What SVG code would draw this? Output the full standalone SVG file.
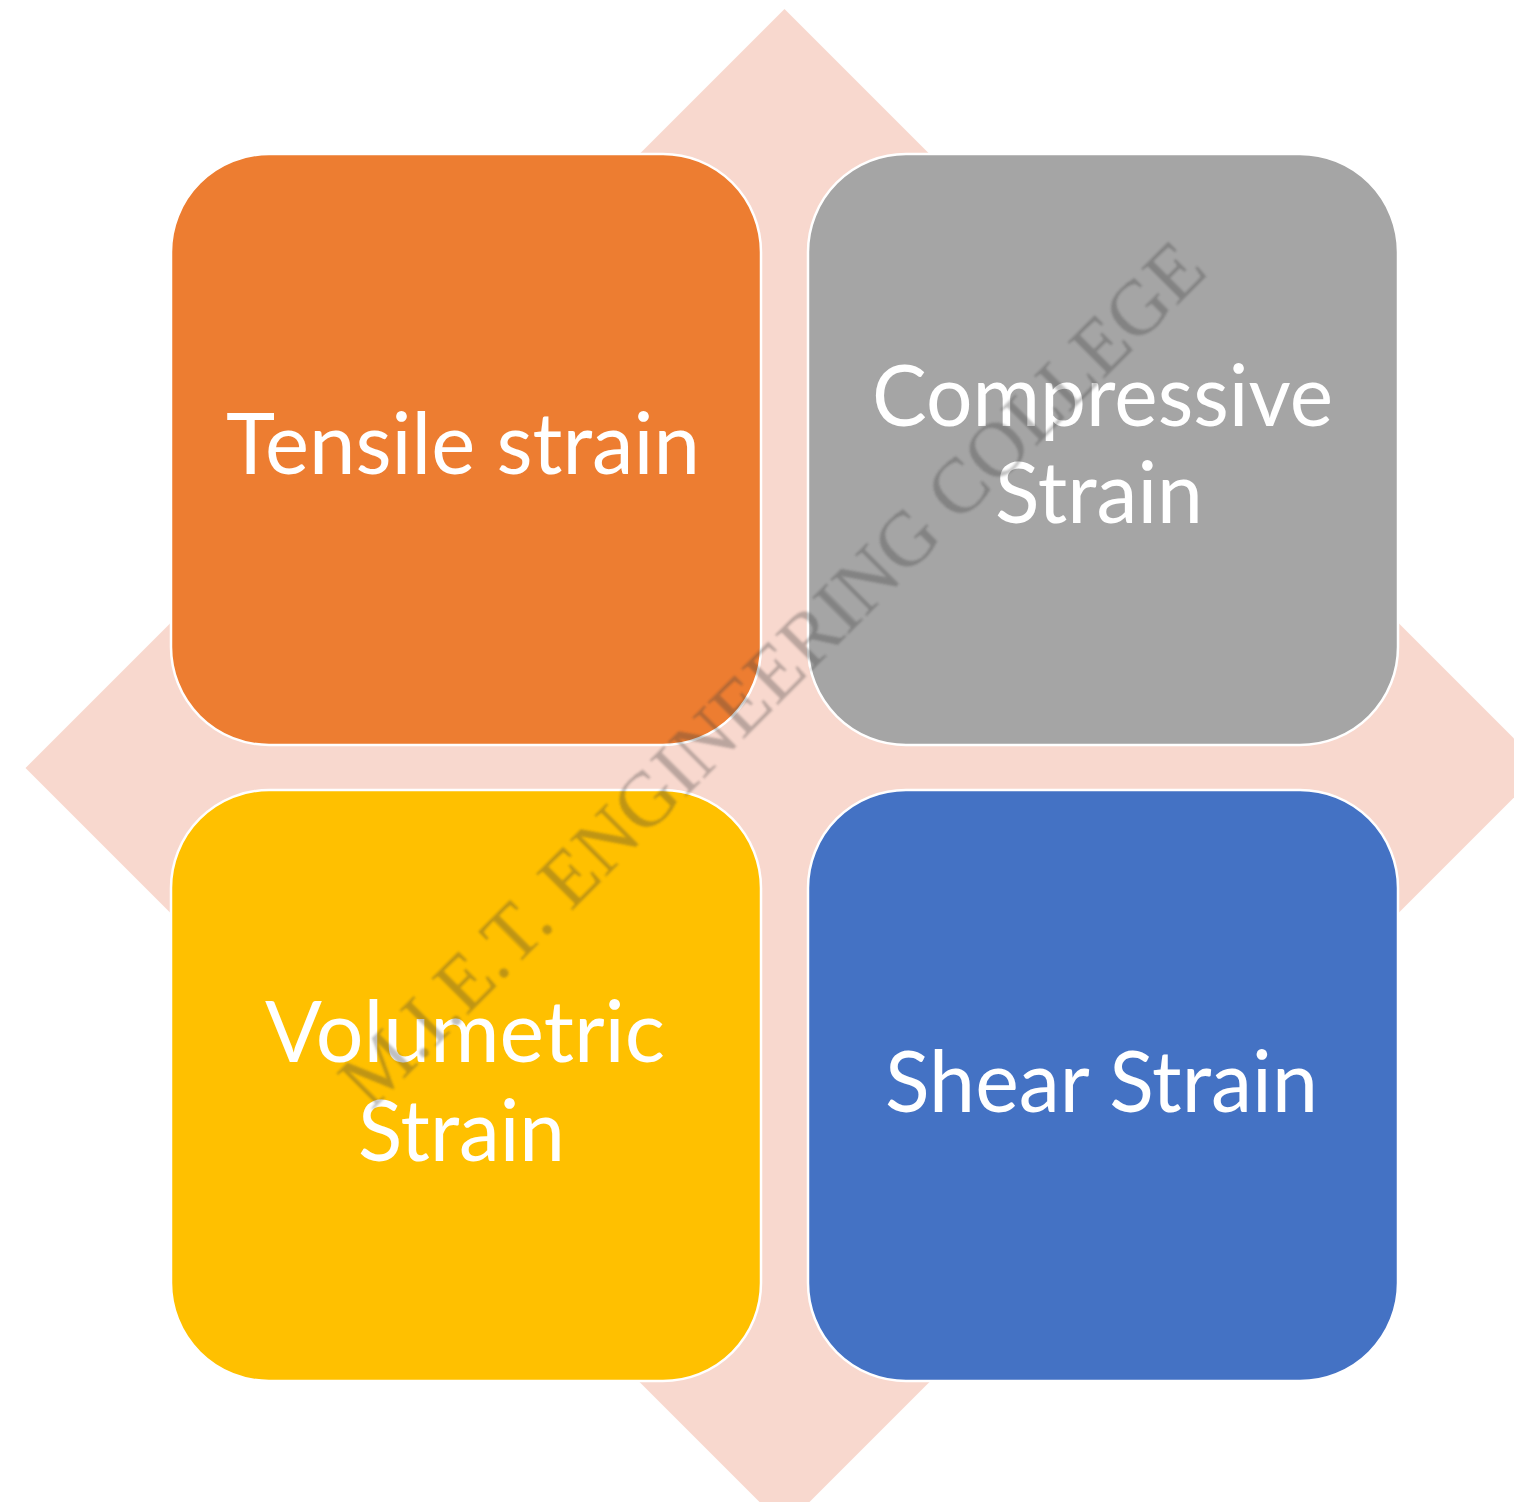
<svg xmlns="http://www.w3.org/2000/svg" width="1514" height="1502" viewBox="0 0 1514 1502">
  <style>
    .box { stroke: #FFFFFF; stroke-width: 2.5; }
    .lbl { font-family: Lato, "Open Sans", "Liberation Sans", sans-serif; font-size: 85px; fill: #FFFFFF; text-anchor: middle; }
    .wm { font-family: "Liberation Serif", "DejaVu Serif", serif; font-size: 78px; fill: #3a3a3a; fill-opacity: 0.33; text-anchor: middle; }
  </style>
  <defs>
    <filter id="soft" x="-5%" y="-5%" width="110%" height="110%">
      <feGaussianBlur stdDeviation="0.9"/>
    </filter>
  </defs>
  <rect x="0" y="0" width="1514" height="1502" fill="#FFFFFF"/>
  <g id="background-diamond">
    <polygon points="784.5,9 1543.5,768 784.5,1527 25.5,768" fill="#F8D8CE"/>
  </g>
  <g id="connectors"/>
  <g id="node-tensile">
    <rect class="box" x="171" y="154" width="590" height="591" rx="98" ry="98" fill="#ED7D31"/>
    <text class="lbl" x="463" y="474" textLength="474" lengthAdjust="spacingAndGlyphs">Tensile strain</text>
  </g>
  <g id="node-compressive">
    <rect class="box" x="808" y="154" width="590" height="591" rx="98" ry="98" fill="#A5A5A5"/>
    <text class="lbl" x="1102.5" y="426" textLength="461" lengthAdjust="spacingAndGlyphs">Compressive</text>
    <text class="lbl" x="1099" y="523" textLength="208" lengthAdjust="spacingAndGlyphs">Strain</text>
  </g>
  <g id="node-volumetric">
    <rect class="box" x="171" y="790" width="590" height="591" rx="98" ry="98" fill="#FFC000"/>
    <text class="lbl" x="465" y="1062" textLength="400" lengthAdjust="spacingAndGlyphs">Volumetric</text>
    <text class="lbl" x="461.5" y="1161" textLength="207" lengthAdjust="spacingAndGlyphs">Strain</text>
  </g>
  <g id="node-shear">
    <rect class="box" x="808" y="790" width="590" height="591" rx="98" ry="98" fill="#4472C4"/>
    <text class="lbl" x="1101.5" y="1112" textLength="433" lengthAdjust="spacingAndGlyphs">Shear Strain</text>
  </g>
  <g id="watermark">
    <text class="wm" x="790" y="692" transform="rotate(-45 790 692)" filter="url(#soft)">M.I.E.T. ENGINEERING COLLEGE</text>
  </g>
</svg>
